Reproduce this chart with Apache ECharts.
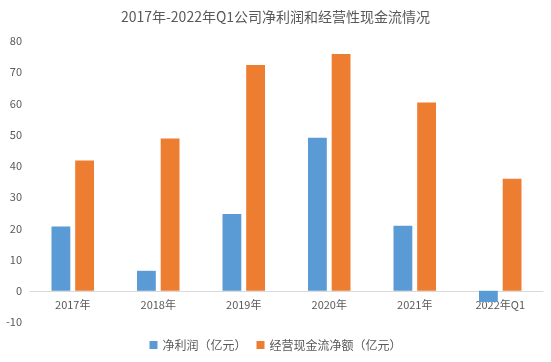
<!DOCTYPE html>
<html><head><meta charset="utf-8">
<script src="https://cdn.jsdelivr.net/npm/echarts@6/dist/echarts.min.js"></script>
<style>html,body{margin:0;padding:0;background:#fff}#c{width:551px;height:362px}</style>
</head><body><div id="c"></div>
<script>
const categories = ['2017年','2018年','2019年','2020年','2021年','2022年Q1'];
const netProfit = [20.6, 6.4, 24.6, 49.0, 20.8, -3.6];
const opCashFlow = [41.7, 48.8, 72.3, 75.8, 60.3, 35.9];
const seriesNames = ['净利润（亿元）','经营现金流净额（亿元）'];
const font = '"Noto Sans CJK SC","Noto Sans",sans-serif';
const chart = echarts.init(document.getElementById('c'));
chart.setOption({
  animation:false,
  title:{text:'2017年-2022年Q1公司净利润和经营性现金流情况',left:'center',top:5,
    textStyle:{fontSize:14,fontWeight:'normal',color:'#595959',fontFamily:font}},
  legend:{bottom:6,left:'center',itemWidth:8,itemHeight:8,itemGap:10,icon:'rect',
    textStyle:{fontSize:12,color:'#595959',fontFamily:font},data:seriesNames},
  grid:{left:30,right:8,top:41,bottom:40,containLabel:false},
  xAxis:{type:'category',data:categories,offset:-31.2,
    axisLine:{onZero:false,lineStyle:{color:'#d9d9d9'}},axisTick:{show:false},
    axisLabel:{color:'#595959',fontSize:11,fontFamily:font,margin:9}},
  yAxis:{type:'value',min:-10,max:80,interval:10,
    axisLine:{show:false},axisTick:{show:false},splitLine:{show:false},
    axisLabel:{color:'#595959',fontSize:11,fontFamily:font,margin:8}},
  series:[
    {name:seriesNames[0],type:'bar',data:netProfit,barWidth:'22%',barGap:'26%',itemStyle:{color:'#5B9BD5'}},
    {name:seriesNames[1],type:'bar',data:opCashFlow,barWidth:'22%',barGap:'26%',itemStyle:{color:'#ED7D31'}}
  ]
});
</script></body></html>
